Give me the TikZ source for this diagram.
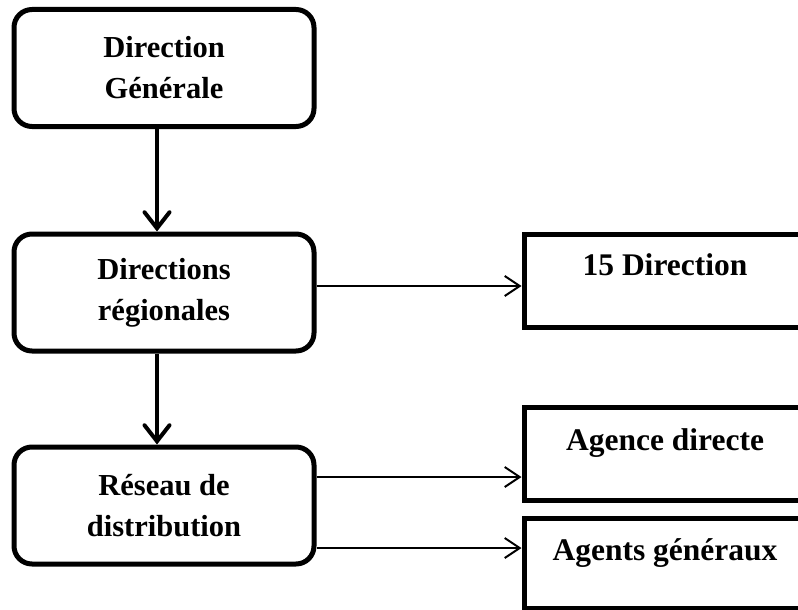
\documentclass[tikz,border=0pt]{standalone}
\usepackage{fontspec}
\setmainfont{Liberation Serif}
\usetikzlibrary{arrows.meta}
\begin{document}
\begin{tikzpicture}[x=1pt,y=-1pt,
  lbox/.style={draw=black,line width=5pt,rounded corners=18pt,fill=white,
    minimum width=300pt,minimum height=117pt,inner sep=0pt,align=center,
    font=\bfseries\fontsize{30.5}{41}\selectfont},
  rbox/.style={draw=black,line width=5pt,fill=white,
    minimum width=282pt,inner sep=0pt,align=center,
    font=\bfseries\fontsize{31.5}{36}\selectfont},
  varrow/.style={line width=4pt,-{Straight Barb[length=16pt,width=25pt,line cap=round]}},
  harrow/.style={line width=2pt,-{Straight Barb[length=15pt,width=20pt]}}]
\useasboundingbox (0,0) rectangle (798,610);
\node[lbox] (b1) at (164,68) {Direction\\Générale};
\node[lbox] (b2) at (164,292.5) {Directions\\régionales};
\node[lbox] (b3) at (164,505.5) {Réseau de\\distribution};
\node[rbox,minimum height=93pt,text height=21pt,text depth=32pt] (r1) at (665,280.5) {15 Direction};
\node[rbox,minimum height=93pt,text height=21pt,text depth=28pt] (r2) at (665,453.5) {Agence directe};
\node[rbox,minimum height=90pt,text height=21pt,text depth=27pt] (r3) at (665,563) {Agents généraux};
\draw[varrow] ([xshift=-7pt]b1.south) -- ([xshift=-7pt]b2.north);
\draw[varrow] ([xshift=-7pt]b2.south) -- ([xshift=-7pt]b3.north);
\draw[harrow] ([yshift=6.5pt]b2.east) -- ([yshift=-5.5pt]r1.west);
\draw[harrow] ([yshift=28.5pt]b3.east) -- ([yshift=-23.5pt]r2.west);
\draw[harrow] ([yshift=-42.5pt]b3.east) -- ([yshift=15pt]r3.west);
\end{tikzpicture}
\end{document}
